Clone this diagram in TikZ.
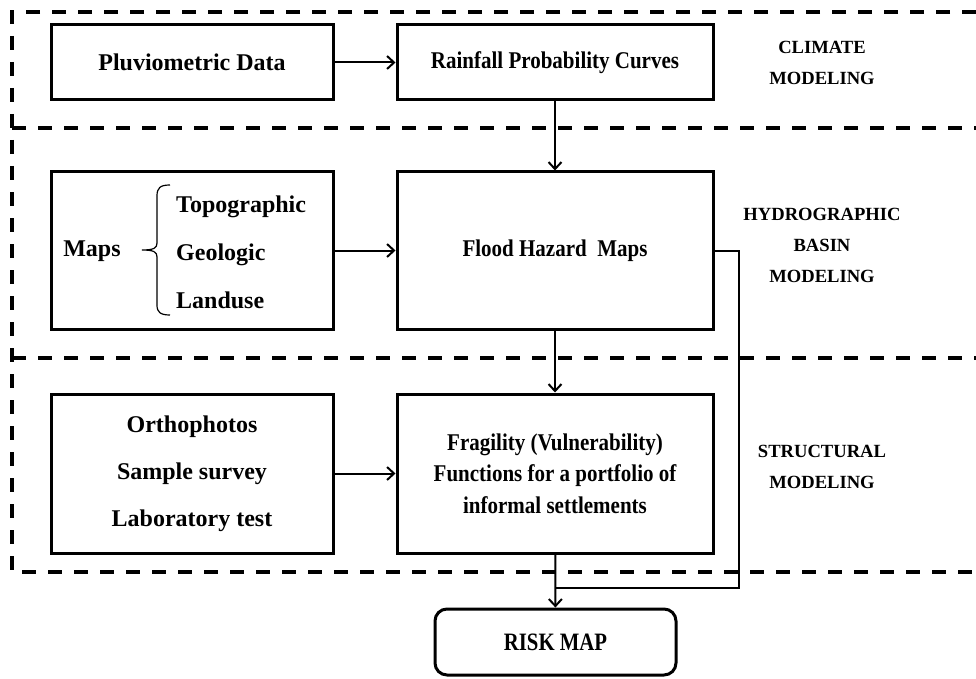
\documentclass[tikz,border=0pt]{standalone}
\usepackage{fontspec}
\setmainfont{Liberation Serif}
\newfontfamily\condfont{Liberation Serif}[FakeStretch=0.875]
\newfontfamily\riskfont{Liberation Serif}[FakeStretch=0.83]
\usetikzlibrary{arrows.meta}
\begin{document}
\begin{tikzpicture}[x=1pt,y=-1pt,
  box/.style={draw,line width=3pt,minimum width=#1,inner sep=0pt,
    font=\condfont\bfseries\fontsize{24}{31}\selectfont,align=center},
  bigtext/.style={font=\bfseries\fontsize{24}{#1}\selectfont},
  riskbox/.style={draw,line width=3pt,rounded corners=12pt,minimum width=241pt,
    minimum height=66pt,font=\riskfont\bfseries\fontsize{25}{31}\selectfont},
  lbl/.style={font=\bfseries\fontsize{18.6}{31}\selectfont,align=center,inner sep=0pt},
  flow/.style={line width=2pt,-{Straight Barb[length=7pt,width=13pt,line width=2pt]}},
  wire/.style={line width=2pt},
  zone/.style={line width=4pt,dash pattern=on 14pt off 12pt}]
\useasboundingbox (0,0) rectangle (976,679);

% zone separators
\draw[zone] (976,12) -- (12,12) -- (12,572) -- (976,572);
\draw[zone] (12,128) -- (976,128);
\draw[zone] (12,358) -- (976,358);

% climate modeling
\node[box=282pt,minimum height=75pt,bigtext=31] (pluvio) at (192,62.5) {Pluviometric Data};
\node[box=316pt,minimum height=75pt] (rain) at (555,62.5) {Rainfall Probability Curves};
\node[lbl] (climate) at (822,63) {CLIMATE\\MODELING};

% hydrographic basin modeling
\node[box=282pt,minimum height=157pt] (mapsbox) at (192,250.5) {};
\node[lbl,bigtext=31] (maps) at (92,251) {Maps};
\node[lbl,anchor=west,align=left,bigtext=48] (list) at (176,252) {Topographic\\Geologic\\Landuse};
\draw[line width=1.2pt] (170,185) .. controls (160,185) and (157,188) .. (157,196)
  -- (157,243) .. controls (157,248) and (154,250) .. (142,250)
  .. controls (154,250) and (157,252) .. (157,257)
  -- (157,305) .. controls (157,312) and (160,315) .. (170,315);
\node[box=316pt,minimum height=157pt] (flood) at (555,250.5) {Flood Hazard\ \ Maps};
\node[lbl] (hydro) at (822,245) {HYDROGRAPHIC\\BASIN\\MODELING};

% structural modeling
\node[box=282pt,minimum height=159pt,bigtext=47] (ortho) at (192,473.5) {Orthophotos\\Sample survey\\Laboratory test};
\node[box=316pt,minimum height=159pt,font=\condfont\bfseries\fontsize{24}{31.5}\selectfont] (frag) at (555,473.5) {Fragility (Vulnerability)\\Functions for a portfolio of\\informal settlements};
\node[lbl] (struct) at (822,467) {STRUCTURAL\\MODELING};

% result
\node[riskbox] (risk) at (555.5,642) {RISK MAP};

% connectors
\draw[flow] (pluvio) -- (rain);
\draw[flow] (rain) -- (flood);
\draw[flow] (mapsbox) -- (flood);
\draw[flow] (flood) -- (frag);
\draw[flow] (ortho) -- (frag);
\draw[flow] (frag) -- (risk);
\coordinate (bend) at (739,588);
\coordinate (join) at (555.5,588);
\draw[wire] (flood.east) -| (bend) -- (join);
\end{tikzpicture}
\end{document}
